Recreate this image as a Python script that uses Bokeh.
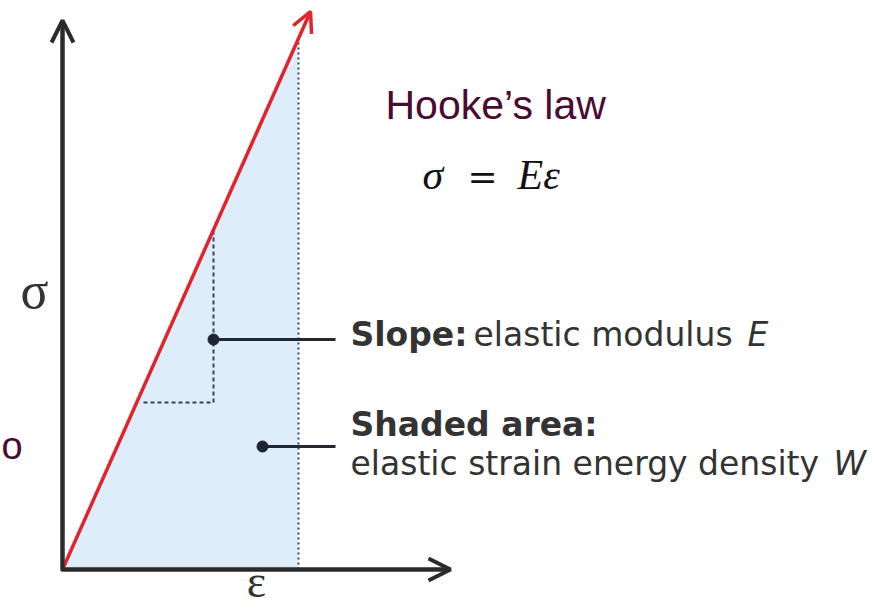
from bokeh.plotting import figure
from bokeh.models import Range1d, Arrow, OpenHead
from bokeh.core.properties import value
from bokeh.embed import file_html
from bokeh.resources import INLINE

# Linear-elastic stress-strain diagram (diagram units: strain along x, stress along y)
modulus_E = 2.25            # slope of the elastic line, sigma = E * eps
eps_end = 236.0             # strain at the right edge of the shaded area
eps_arrow = 248.0           # strain where the red line ends in its arrowhead
eps_axis_max = 388.0        # length of the strain axis
sig_axis_max = 549.0        # length of the stress axis
slope_run = [81.0, 151.0]   # horizontal leg of the slope triangle
slope_sig0 = 167.0          # stress level of that horizontal leg
slope_dot = (151.0, 230.0)  # point annotated as the slope
area_dot = (200.0, 123.0)   # point annotated as the shaded area
leader_end = 273.0          # where the annotation leaders stop

AXIS = "#2b2b2b"
RED = "#e0242c"
FILL = "#ddedf9"
DOT = "#3a4450"
TXT = "#333333"
PURPLE = "#4b0a32"

p = figure(width=877, height=609, output_backend="svg", toolbar_location=None,
           x_range=Range1d(-62, 815), y_range=Range1d(-40, 569),
           min_border=0, background_fill_color="white", border_fill_color="white")
p.axis.visible = False
p.grid.visible = False
p.outline_line_color = None

# shaded triangle under the elastic line
sig_end = modulus_E * eps_end
p.patch([0, eps_end, eps_end], [0, 0, sig_end], fill_color=FILL, line_color=None)

# dotted vertical at the end strain
p.line([eps_end, eps_end], [0, sig_end], line_color=DOT, line_width=2, line_dash="2 3")

# slope triangle
sig_top = modulus_E * slope_run[1]
p.line([slope_run[0], slope_run[1], slope_run[1]], [slope_sig0, slope_sig0, sig_top],
       line_color=DOT, line_width=2, line_dash="4 3")

# red elastic line with arrowhead
p.add_layout(Arrow(x_start=0, y_start=0, x_end=eps_arrow, y_end=modulus_E * eps_arrow,
                   line_color=RED, line_width=3.5,
                   end=OpenHead(size=20, line_color=RED, line_width=3.5)))

# axes
p.line([0, 0, eps_axis_max], [sig_axis_max, 0, 0], line_color=AXIS, line_width=4,
       line_join="miter")
p.add_layout(Arrow(x_start=0, y_start=0, x_end=0, y_end=sig_axis_max,
                   line_color=AXIS, line_width=4,
                   end=OpenHead(size=22, line_color=AXIS, line_width=4)))
p.add_layout(Arrow(x_start=0, y_start=0, x_end=eps_axis_max, y_end=0,
                   line_color=AXIS, line_width=4,
                   end=OpenHead(size=22, line_color=AXIS, line_width=4)))

# annotation leaders and dots
p.segment([slope_dot[0], area_dot[0]], [slope_dot[1], area_dot[1]],
          [leader_end, leader_end], [slope_dot[1], area_dot[1]],
          line_color="#22282f", line_width=3)
p.scatter([slope_dot[0], area_dot[0]], [slope_dot[1], area_dot[1]],
          size=11, fill_color="#1c2530", line_color="#1c2530")

def txt(x, y, s, size, color=TXT, font="DejaVu Sans", style="normal", align="left"):
    # y is the wanted baseline; the svg text sits lower by ~0.38 em, so lift it
    p.text([x], [y + 0.38 * size], text=[s], text_font=value(font),
           text_font_size=f"{size}px", text_font_style=style, text_color=color,
           text_align=align, text_baseline="alphabetic")

# axis symbols
txt(-28, 259, "σ", 52, font="Liberation Serif", align="center")
txt(194, -29, "ε", 46, font="Liberation Serif", align="center")

# callout texts
txt(288, 222, "Slope:", 33, style="bold")
txt(411, 222, "elastic modulus", 33)
txt(685, 222, "E", 33, style="italic")
txt(288, 132, "Shaded area:", 33, style="bold")
txt(288, 93, "elastic strain energy density", 33)
txt(771, 93, "W", 33, style="italic")

# Hooke's law
txt(323, 449, "Hooke’s law", 41, color=PURPLE, font="Liberation Sans")
txt(360, 379, "σ", 42, color="#111111", font="Liberation Serif", style="italic")
txt(420, 379, "=", 36, color="#111111", font="DejaVu Serif", align="center")
txt(455, 379, "Eε", 42, color="#111111", font="Liberation Serif", style="italic")

# trailing letter at the left edge
txt(-61, 109, "o", 38, color=PURPLE, font="Liberation Sans")

open("out.html", "w").write(file_html(p, INLINE))
